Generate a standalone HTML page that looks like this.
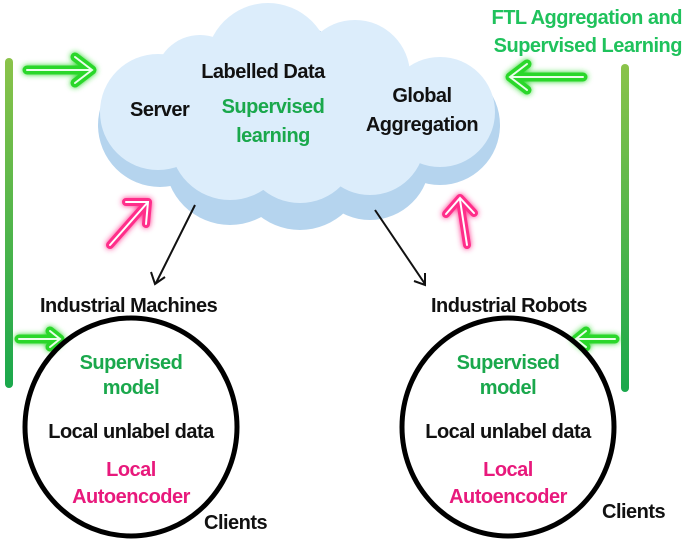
<!DOCTYPE html>
<html><head><meta charset="utf-8"><style>
html,body{margin:0;padding:0;background:#fff;width:685px;height:539px;overflow:hidden}
text{font-family:"Liberation Sans",sans-serif;font-weight:bold;font-size:20px;letter-spacing:-0.5px}
</style></head><body>
<svg width="685" height="539" viewBox="0 0 685 539" xmlns="http://www.w3.org/2000/svg">
<defs>
<linearGradient id="bar" x1="0" y1="0" x2="0" y2="1"><stop offset="0" stop-color="#8bc34a"/><stop offset="1" stop-color="#1aa84c"/></linearGradient>
<filter id="glowG" x="-50%" y="-50%" width="200%" height="200%"><feGaussianBlur stdDeviation="3" result="b"/><feMerge><feMergeNode in="b"/><feMergeNode in="SourceGraphic"/></feMerge></filter>
</defs>
<g fill="#b5d4ee">
<circle cx="160" cy="125" r="62"/><circle cx="230" cy="160" r="65"/><circle cx="300" cy="165" r="65"/>
<circle cx="370" cy="160" r="60"/><circle cx="440" cy="125" r="60"/><circle cx="280" cy="100" r="80"/>
</g>
<g fill="#dcedfb">
<circle cx="158" cy="112" r="58"/><circle cx="230" cy="140" r="60"/><circle cx="300" cy="145" r="58"/>
<circle cx="370" cy="140" r="55"/><circle cx="440" cy="112" r="55"/><circle cx="268" cy="65" r="62"/>
<circle cx="355" cy="75" r="55"/><circle cx="200" cy="80" r="45"/><circle cx="300" cy="100" r="70"/>
</g>
<rect x="5" y="58" width="8" height="330" rx="4" fill="url(#bar)"/>
<rect x="621" y="64" width="8" height="328" rx="4" fill="url(#bar)"/>
<g stroke="#2bd72b" stroke-width="9" fill="none" stroke-linecap="round" stroke-linejoin="round" filter="url(#glowG)">
<path d="M27 70 H90 M75 57 L92 70 L75 83"/>
<path d="M583 77 H512 M527 64 L510 77 L527 90"/>
<path d="M19 339 H58 M50 331 L60 339 L50 347"/>
<path d="M615 339 H577 M586 331 L576 339 L586 347"/>
</g>
<g stroke="#0a4" stroke-width="1" fill="none" stroke-linecap="round" opacity="0.5">
</g>
<g stroke="#eaffea" stroke-width="2" fill="none" stroke-linecap="round">
<path d="M27 70 H90 M75 57 L92 70 L75 83"/>
<path d="M583 77 H512 M527 64 L510 77 L527 90"/>
<path d="M19 339 H58 M50 331 L60 339 L50 347"/>
<path d="M615 339 H577 M586 331 L576 339 L586 347"/>
</g>
<g stroke="#ff2d8a" stroke-width="8" fill="none" stroke-linecap="round" stroke-linejoin="round" filter="url(#glowG)">
<path d="M110 245 L148 202 M126 202 L148 202 L146 224"/>
<path d="M467 245 L460 200 M446 214 L460 198 L474 213"/>
</g>
<g stroke="#fff" stroke-width="2" fill="none" stroke-linecap="round">
<path d="M110 245 L148 202 M126 202 L148 202 L146 224"/>
<path d="M467 245 L460 200 M446 214 L460 198 L474 213"/>
</g>
<g stroke="#111" stroke-width="2" fill="none">
<path d="M195 205 L156 283 M151 272 L155 284 L165 277"/>
<path d="M375 210 L425 284 M414 281 L425 285 L425 273"/>
</g>
<ellipse cx="131" cy="427" rx="106" ry="109" fill="none" stroke="#000" stroke-width="5"/>
<ellipse cx="508" cy="427" rx="106" ry="109" fill="none" stroke="#000" stroke-width="5"/>
<g fill="#111">
<text x="263" y="78" text-anchor="middle">Labelled Data</text>
<text x="130" y="116">Server</text>
<text x="422" y="102" text-anchor="middle">Global</text>
<text x="422" y="131" text-anchor="middle">Aggregation</text>
<text x="40" y="312">Industrial Machines</text>
<text x="431" y="312">Industrial Robots</text>
<text x="131" y="438" text-anchor="middle">Local unlabel data</text>
<text x="508" y="438" text-anchor="middle">Local unlabel data</text>
<text x="204" y="529">Clients</text>
<text x="602" y="518">Clients</text>
</g>
<g fill="#1aa84c">
<text x="273" y="113" text-anchor="middle">Supervised</text>
<text x="273" y="142" text-anchor="middle">learning</text>
<text x="131" y="369" text-anchor="middle">Supervised</text>
<text x="131" y="394" text-anchor="middle">model</text>
<text x="508" y="369" text-anchor="middle">Supervised</text>
<text x="508" y="394" text-anchor="middle">model</text>
</g>
<g fill="#1fc25c">
<text x="682" y="24" text-anchor="end">FTL Aggregation and</text>
<text x="682" y="52" text-anchor="end">Supervised Learning</text>
</g>
<g fill="#e8197c">
<text x="131" y="476" text-anchor="middle">Local</text>
<text x="131" y="503" text-anchor="middle">Autoencoder</text>
<text x="508" y="476" text-anchor="middle">Local</text>
<text x="508" y="503" text-anchor="middle">Autoencoder</text>
</g>
</svg>
</body></html>
